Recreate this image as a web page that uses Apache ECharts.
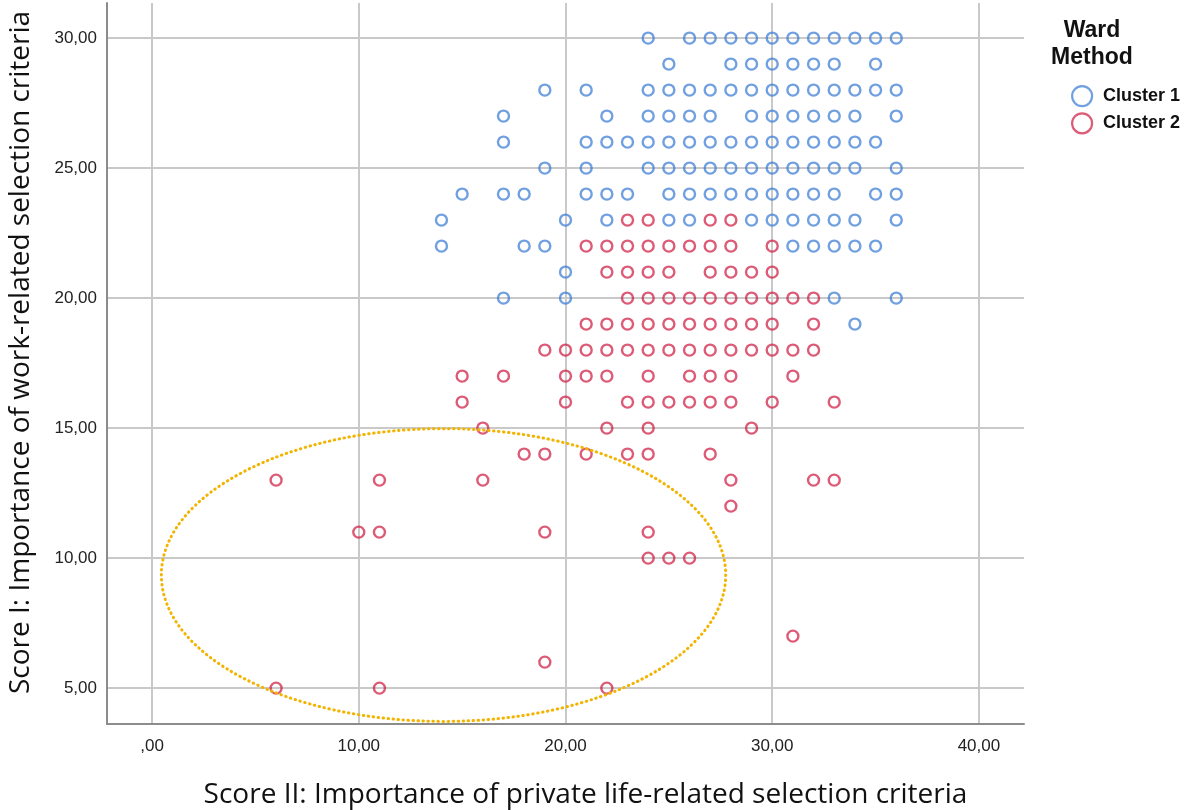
<!DOCTYPE html>
<html>
<head>
<meta charset="utf-8">
<script src="https://cdn.jsdelivr.net/npm/echarts@6/dist/echarts.min.js"></script>
<style>html,body{margin:0;padding:0;background:#fff;}#chart{width:1184px;height:810px;}</style>
</head>
<body>
<div id="chart"></div>
<script>
// Each row is [Score I value, [Score II values]]
const cluster1Rows = [
  [30, [24,26,27,28,29,30,31,32,33,34,35,36]],
  [29, [25,28,29,30,31,32,33,35]],
  [28, [19,21,24,25,26,27,28,29,30,31,32,33,34,35,36]],
  [27, [17,22,24,25,26,27,29,30,31,32,33,34,36]],
  [26, [17,21,22,23,24,25,26,27,28,29,30,31,32,33,34,35]],
  [25, [19,21,24,25,26,27,28,29,30,31,32,33,34,36]],
  [24, [15,17,18,21,22,23,25,26,27,28,29,30,31,32,33,35,36]],
  [23, [14,20,22,25,26,29,30,31,32,33,34,36]],
  [22, [14,18,19,31,32,33,34,35]],
  [21, [20]],
  [20, [17,20,33,36]],
  [19, [34]]
];
const cluster2Rows = [
  [23, [23,24,27,28]],
  [22, [21,22,23,24,25,26,27,28,30]],
  [21, [22,23,24,25,27,28,29,30]],
  [20, [23,24,25,26,27,28,29,30,31,32]],
  [19, [21,22,23,24,25,26,27,28,29,30,32]],
  [18, [19,20,21,22,23,24,25,26,27,28,29,30,31,32]],
  [17, [15,17,20,21,22,24,26,27,28,31]],
  [16, [15,20,23,24,25,26,27,28,30,33]],
  [15, [16,22,24,29]],
  [14, [18,19,21,23,24,27]],
  [13, [6,11,16,28,32,33]],
  [12, [28]],
  [11, [10,11,19,24]],
  [10, [24,25,26]],
  [7,  [31]],
  [6,  [19]],
  [5,  [6,11,22]]
];
const seriesNames = ['Cluster 1', 'Cluster 2'];
const xTicks = [0, 10, 20, 30, 40];
const yTicks = [5, 10, 15, 20, 25, 30];
// highlighted region: [centre x, centre y, radius x, radius y] in data units
const highlightEllipse = [14.1, 9.35, 13.65, 5.63];

function flatten(rows) {
  const out = [];
  rows.forEach(([y, xs]) => xs.forEach(x => out.push([x, y])));
  return out;
}
function fmt(v) {
  if (v === 0) return ',00';
  return v.toFixed(2).replace('.', ',');
}

const grid = '#c9c9c9';
const chart = echarts.init(document.getElementById('chart'), null, {renderer: 'canvas'});
chart.setOption({
  animation: false,
  backgroundColor: '#ffffff',
  title: {
    text: 'Ward\nMethod',
    left: 1087, top: 12, textAlign: 'center',
    textStyle: {fontFamily: 'Liberation Sans, Arial', fontWeight: 'bold', fontSize: 23, lineHeight: 27, color: '#111'}
  },
  legend: {
    data: seriesNames,
    orient: 'vertical',
    left: 1066, top: 80,
    icon: 'circle',
    itemWidth: 20, itemHeight: 20, itemGap: 5,
    itemStyle: {borderWidth: 2.2},
    textStyle: {fontFamily: 'Liberation Sans, Arial', fontWeight: 'bold', fontSize: 18, lineHeight: 20, color: '#111', padding: [0, 0, 0, 6]}
  },
  grid: {left: 107, right: 160, top: 3, bottom: 86, containLabel: false, outerBoundsMode: 'none'},
  xAxis: {
    type: 'value', min: -2.18, max: 42.18,
    name: 'Score II: Importance of private life-related selection criteria',
    nameLocation: 'middle', nameGap: 57,
    nameTextStyle: {fontFamily: 'Open Sans', fontSize: 28, color: '#111', padding: [0, 0, 0, 40]},
    axisLine: {show: true, onZero: false, lineStyle: {color: '#8c8c8c', width: 2}},
    axisTick: {show: false},
    axisLabel: {
      showMinLabel: false, showMaxLabel: false, margin: 14,
      fontFamily: 'Liberation Sans, Arial', fontSize: 17, color: '#222',
      formatter: v => xTicks.includes(v) ? fmt(v) : ''
    },
    splitLine: {show: true, lineStyle: {color: ['rgba(0,0,0,0)', grid, grid, grid, grid, grid, 'rgba(0,0,0,0)'], width: 2}}
  },
  yAxis: {
    type: 'value', min: 3.62, max: 31.35,
    name: 'Score I: Importance of work-related selection criteria',
    nameLocation: 'middle', nameGap: 72,
    nameTextStyle: {fontFamily: 'Open Sans', fontSize: 28, color: '#111', padding: [0, 0, 0, 22]},
    axisLine: {show: true, onZero: false, lineStyle: {color: '#8c8c8c', width: 2}},
    axisTick: {show: false},
    axisLabel: {
      showMinLabel: false, showMaxLabel: false, margin: 10,
      fontFamily: 'Liberation Sans, Arial', fontSize: 17, color: '#222',
      formatter: v => yTicks.includes(v) ? fmt(v) : ''
    },
    splitLine: {show: true, lineStyle: {color: ['rgba(0,0,0,0)', grid, grid, grid, grid, grid, grid, 'rgba(0,0,0,0)'], width: 2}}
  },
  series: [
    {
      name: seriesNames[0], type: 'scatter', data: flatten(cluster1Rows),
      symbol: 'circle', symbolSize: 11,
      itemStyle: {color: 'rgba(0,0,0,0)', borderColor: 'rgba(52,120,212,0.88)', borderWidth: 2.4}
    },
    {
      name: seriesNames[1], type: 'scatter', data: flatten(cluster2Rows),
      symbol: 'circle', symbolSize: 11,
      itemStyle: {color: 'rgba(0,0,0,0)', borderColor: 'rgba(204,16,56,0.85)', borderWidth: 2.4}
    },
    {
      type: 'custom', silent: true, z: 5,
      data: [highlightEllipse],
      encode: {x: 0, y: 1},
      renderItem: function (params, api) {
        const c = api.coord([api.value(0), api.value(1)]);
        const s = api.size([api.value(2), api.value(3)]);
        return {
          type: 'ellipse',
          shape: {cx: c[0], cy: c[1], rx: s[0], ry: s[1]},
          style: {fill: 'none', stroke: '#f2b400', lineWidth: 3, lineDash: [0.5, 4.5], lineCap: 'round'}
        };
      }
    }
  ]
});
</script>
</body>
</html>
